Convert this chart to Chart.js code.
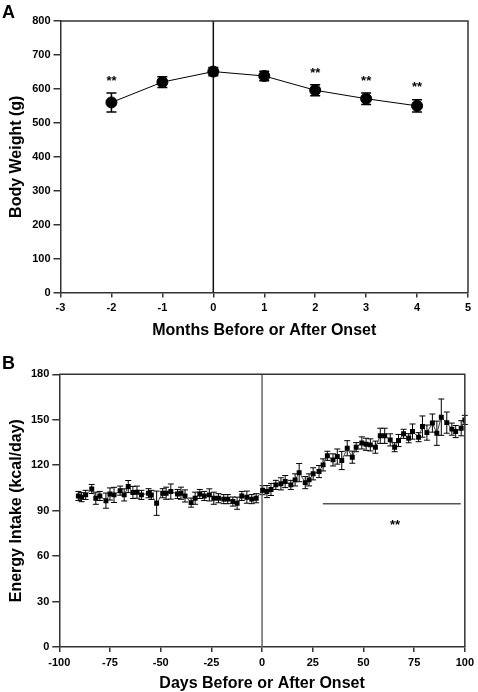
<!DOCTYPE html>
<html>
<head>
<meta charset="utf-8">
<script src="https://cdn.jsdelivr.net/npm/chart.js@4.4.1/dist/chart.umd.min.js"></script>
<style>
    body { margin: 0; background: #fff; }
    #wrap { position: relative; width: 478px; height: 692px; }
    canvas { position: absolute; left: 0; }
    .panel { position: absolute; left: 2px; font: bold 18px "Liberation Sans", Arial, sans-serif; line-height: 1; }
</style>
</head>
<body>
<div id="wrap">
    <canvas id="chartA" width="478" height="345" style="top:0"></canvas>
    <canvas id="chartB" width="478" height="347" style="top:345px"></canvas>
    <div class="panel" style="top:3px">A</div>
    <div class="panel" style="top:354px">B</div>
</div>
<script>
// Panel A: body weight by month
const months = [-2, -1, 0, 1, 2, 3, 4];
const weight = [560, 620, 651, 638, 596, 571, 550];
const weightErr = [28, 16, 12, 14, 16, 17, 18];
const starMonths = [-2, 2, 3, 4];
const starWeight = [630, 654, 630, 614];

// Panel B: energy intake by day
const days = [
    -90.6, -89, -87, -84, -82, -80, -77, -75, -73, -70, -68, -66, -63.7, -61.7, -59.5, -56, -54.6, -52, -49, -47.3,
    -45, -41.7, -40, -38, -35, -33, -30.7, -28.5, -26, -23.8, -21.5, -18.9, -16.9, -14.4, -12.3, -10, -7.5, -5.1, -2.9,
    0.3, 2.4, 4.4, 6.8, 9.3, 11.4, 14.2, 16.3, 18.3, 21.3, 23.2, 25.2, 28.1, 30.1, 32.2, 35, 37.1, 39.3, 42, 44.5,
    46.4, 49.2, 51.3, 53.4, 55.9, 58.3, 60.5, 63.2, 65.4, 67.3, 69.8, 72.3, 74.2, 77.2, 79.1, 81.3, 84, 86.2, 88.4,
    91.1, 93.6, 95.5, 98.2, 100
];
const intake = [
    99.7, 98.9, 100.4, 104.3, 98.2, 99.7, 96.6, 101, 100.4, 103.2, 100.4, 105.9, 102, 102.2, 100.4, 101.5, 100.4, 94.9, 101.5, 101.5,
    102.6, 101, 101.5, 99.7, 95.3, 98.2, 101, 99.7, 100.4, 98.2, 98.2, 97.6, 97.6, 96, 94.9, 99.7, 98.9, 97.6, 98.2,
    103.5, 102.6, 104, 107, 107.7, 109.2, 107, 110.3, 115.1, 108.5, 110.3, 114.3, 115.8, 120.2, 126.2, 123.5, 125.7, 123.1, 131.2, 125.3,
    131.9, 134.7, 133.8, 133.4, 131.9, 139.4, 139.4, 136.7, 131.9, 136.3, 140.7, 137.8, 142.2, 138.5, 145.5, 141.5, 147.8, 141.1, 151.7,
    148.1, 143.8, 142.2, 144.4, 149.9
];
const intakeErr = [
    3, 3, 3, 3, 4, 3, 5, 4, 5, 3, 4, 4, 4, 4, 3, 3, 3, 8, 3, 4,
    5, 3, 4, 4, 3, 4, 3, 3, 4, 4, 3, 3, 3, 3, 4, 3, 4, 3, 3,
    3, 4, 4, 3, 4, 4, 3, 4, 6, 4, 4, 4, 4, 4, 3, 4, 5, 6, 5, 4,
    3, 4, 4, 4, 4, 5, 5, 4, 3, 4, 3, 3, 5, 3, 7, 5, 6, 8, 12,
    7, 4, 4, 5, 3
];
const sigDays = [30, 98];
const sigLevel = 94.5;
const starDays = [65.6];
const starIntake = [82];

const FONT = "'Liberation Sans', Arial, sans-serif";
Chart.defaults.font.family = FONT;
Chart.defaults.color = '#000';

const tickFont = { size: 11, weight: 'bold' };
const titleFont = { size: 16, weight: 'bold' };

function toPoints(xs, ys) {
    return xs.map((x, i) => ({ x: x, y: ys[i] }));
}

// error bars drawn through the scales
const errorBars = {
    id: 'errorBars',
    beforeDatasetsDraw(chart) {
        const ctx = chart.ctx;
        const xs = chart.scales.x, ys = chart.scales.y;
        chart.data.datasets.forEach(ds => {
            if (!ds.errors) return;
            ctx.save();
            ctx.strokeStyle = '#000';
            ctx.lineWidth = ds.errWidth || 1;
            ds.data.forEach((p, i) => {
                const e = ds.errors[i];
                const px = xs.getPixelForValue(p.x);
                const top = ys.getPixelForValue(p.y + e);
                const bot = ys.getPixelForValue(p.y - e);
                const c = ds.capWidth / 2;
                ctx.beginPath();
                ctx.moveTo(px, top); ctx.lineTo(px, bot);
                ctx.moveTo(px - c, top); ctx.lineTo(px + c, top);
                ctx.moveTo(px - c, bot); ctx.lineTo(px + c, bot);
                ctx.stroke();
            });
            ctx.restore();
        });
    }
};

// top and right edges of the plot frame
const frame = {
    id: 'frame',
    afterDraw(chart) {
        const a = chart.chartArea, ctx = chart.ctx;
        ctx.save();
        ctx.strokeStyle = '#333';
        ctx.lineWidth = 1.5;
        ctx.beginPath();
        ctx.moveTo(a.left, a.top);
        ctx.lineTo(a.right, a.top);
        ctx.lineTo(a.right, a.bottom);
        ctx.stroke();
        ctx.restore();
    }
};

// "**" significance marks
const stars = {
    id: 'stars',
    afterDatasetsDraw(chart, args, opts) {
        if (!opts.x) return;
        const ctx = chart.ctx;
        ctx.save();
        ctx.font = 'bold 13px ' + FONT;
        ctx.fillStyle = '#000';
        ctx.textAlign = 'center';
        ctx.textBaseline = 'middle';
        opts.x.forEach((v, i) => {
            ctx.fillText('**', chart.scales.x.getPixelForValue(v), chart.scales.y.getPixelForValue(opts.y[i]) + 3);
        });
        ctx.restore();
    }
};

function axis(min, max, step, title, size, titlePad) {
    return {
        type: 'linear', min: min, max: max,
        ticks: { stepSize: step, color: '#000', padding: 4, font: tickFont },
        grid: { drawOnChartArea: false, tickLength: 6, color: '#333', lineWidth: 1.5 },
        border: { color: '#333', width: 1.5 },
        title: { display: true, text: title, color: '#000', font: titleFont, padding: titlePad },
        afterFit: size
    };
}

function createWeightChart() {
    const ctx = document.getElementById('chartA');
    const xAxis = axis(-3, 5, 1, 'Months Before or After Onset', s => { s.height = 52.5; }, { top: 0, bottom: 5 });
    xAxis.grid.tickLength = 5;
    const yAxis = axis(0, 800, 100, 'Body Weight (g)', s => { s.width = 60.5; }, { top: 7, bottom: 0 });
    yAxis.ticks.padding = 3;
    yAxis.grid.tickLength = 7;

    new Chart(ctx, {
        type: 'scatter',
        data: {
            datasets: [{
                data: toPoints(months, weight),
                errors: weightErr,
                capWidth: 10,
                errWidth: 1.5,
                showLine: true,
                borderColor: '#000',
                borderWidth: 1,
                pointRadius: 5.5,
                pointBackgroundColor: '#000',
                pointBorderColor: '#000'
            }, {
                data: [{ x: 0, y: 0 }, { x: 0, y: 800 }],
                showLine: true,
                borderColor: '#111',
                borderWidth: 1.5,
                pointRadius: 0
            }]
        },
        options: {
            responsive: false,
            animation: false,
            layout: { padding: { top: 21, right: 10, left: 0, bottom: 0 } },
            plugins: {
                legend: { display: false },
                tooltip: { enabled: false },
                stars: { x: starMonths, y: starWeight }
            },
            scales: { x: xAxis, y: yAxis }
        },
        plugins: [errorBars, frame, stars]
    });
}

function createIntakeChart() {
    const ctx = document.getElementById('chartB');
    const xAxis = axis(-100, 100, 25, 'Days Before or After Onset', s => { s.height = 45; }, { top: 0, bottom: -1 });
    xAxis.grid.tickLength = 5;
    const yAxis = axis(0, 180, 30, 'Energy Intake (kcal/day)', s => { s.width = 59.3; }, { top: 7, bottom: 0 });
    yAxis.ticks.padding = 3;
    yAxis.grid.tickLength = 7;

    new Chart(ctx, {
        type: 'scatter',
        data: {
            datasets: [{
                data: toPoints(days, intake),
                errors: intakeErr,
                capWidth: 6,
                errWidth: 1,
                showLine: true,
                borderColor: '#444',
                borderWidth: 1,
                pointStyle: 'rect',
                pointRadius: 3.5,
                pointBackgroundColor: '#000',
                pointBorderColor: '#000',
                pointBorderWidth: 0
            }, {
                data: toPoints(sigDays, [sigLevel, sigLevel]),
                showLine: true,
                borderColor: '#000',
                borderWidth: 1,
                pointRadius: 0
            }, {
                data: [{ x: 0, y: 0 }, { x: 0, y: 180 }],
                showLine: true,
                borderColor: '#666',
                borderWidth: 1.5,
                pointRadius: 0
            }]
        },
        options: {
            responsive: false,
            animation: false,
            layout: { padding: { top: 29.3, right: 11.3, left: 0, bottom: 0 } },
            plugins: {
                legend: { display: false },
                tooltip: { enabled: false },
                stars: { x: starDays, y: starIntake }
            },
            scales: { x: xAxis, y: yAxis }
        },
        plugins: [errorBars, frame, stars]
    });
}

createWeightChart();
createIntakeChart();
</script>
</body>
</html>
